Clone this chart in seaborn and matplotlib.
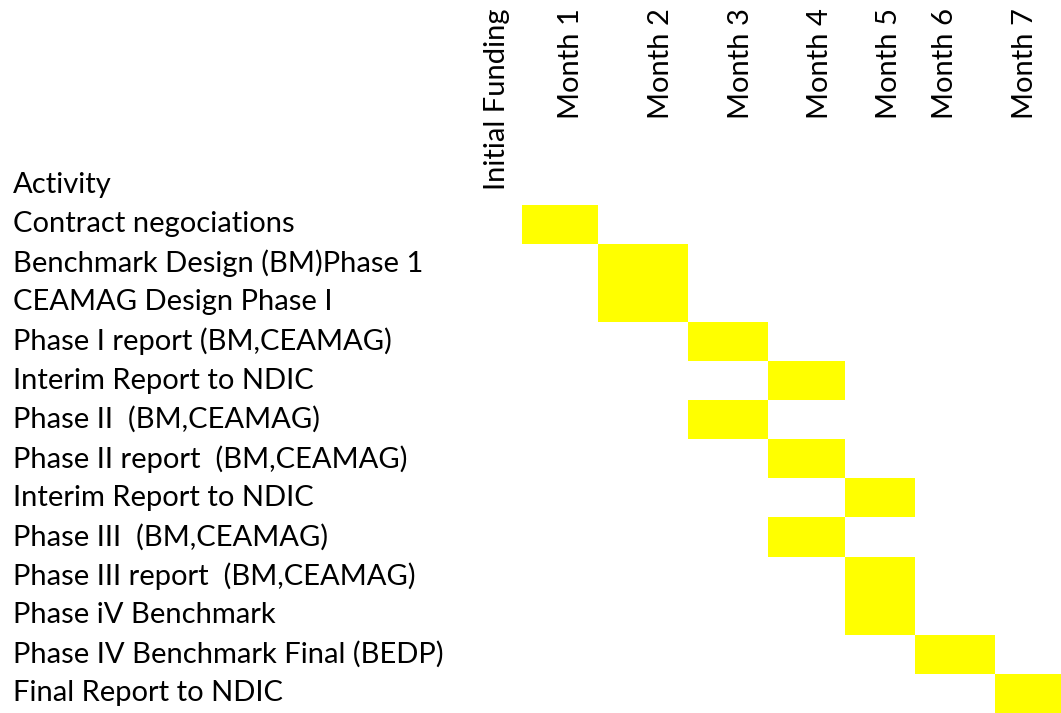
import matplotlib
matplotlib.use("Agg")
import pandas as pd
import seaborn as sns
import matplotlib.pyplot as plt
import matplotlib.transforms as mtransforms

# --- data ---
activities = [
    "Contract negociations",
    "Benchmark Design (BM)Phase 1",
    "CEAMAG Design Phase I",
    "Phase I report (BM,CEAMAG)",
    "Interim Report to NDIC",
    "Phase II  (BM,CEAMAG)",
    "Phase II report  (BM,CEAMAG)",
    "Interim Report to NDIC",
    "Phase III  (BM,CEAMAG)",
    "Phase III report  (BM,CEAMAG)",
    "Phase iV Benchmark",
    "Phase IV Benchmark Final (BEDP)",
    "Final Report to NDIC",
]
periods = ["Initial Funding", "Month 1", "Month 2", "Month 3",
           "Month 4", "Month 5", "Month 6", "Month 7"]
scheduled = ["Month 1", "Month 2", "Month 2", "Month 3", "Month 4", "Month 3",
             "Month 4", "Month 5", "Month 4", "Month 5", "Month 5", "Month 6",
             "Month 7"]

# spreadsheet column widths (px) and header label centres (px)
col_widths = [42, 76, 90, 80, 77, 70, 80, 66]
header_x = [497, 571, 661, 741, 820, 889, 945, 1025]

sns.set_theme(style="white")
plt.rcParams['font.family'] = ['Lato', 'DejaVu Sans']
fs = 21

W, H = 1061, 713
fig = plt.figure(figsize=(W / 100, H / 100), dpi=100)
grid_left, grid_top = 480, 204.5
ax = fig.add_axes([grid_left / W, 0, (W - grid_left) / W, (H - grid_top) / H])

edges = pd.Series([0] + col_widths[:-1]).cumsum().tolist()
cols = pd.DataFrame({"period": periods, "left": edges, "width": col_widths}).set_index("period")

df = pd.DataFrame({"activity": activities, "period": scheduled})
df["row"] = range(len(df))
df = df.join(cols, on="period")

ax.barh(df["row"], df["width"], left=df["left"], height=1.0,
        color="#FFFF00", edgecolor="none", align="center")

ax.set_xlim(0, sum(col_widths))
ax.set_ylim(len(activities) - 0.5, -0.5)
ax.set_xticks([])
ax.set_yticks([])
for s in ax.spines.values():
    s.set_visible(False)

# row labels
trans = mtransforms.blended_transform_factory(fig.transFigure, ax.transData)
ax.text(13 / W, -1, "Activity", transform=trans, ha="left", va="center",
        fontsize=fs, color="black", clip_on=False)
for i, name in enumerate(activities):
    ax.text(13 / W, i, name, transform=trans, ha="left", va="center",
            fontsize=fs, color="black", clip_on=False)

# column headers
for x, name in zip(header_x, periods):
    fig.text(x / W, 1 - 8 / H, name, rotation=90, ha="center", va="top",
             fontsize=fs, color="black")

fig.savefig("out.png", dpi=100, facecolor="white")
